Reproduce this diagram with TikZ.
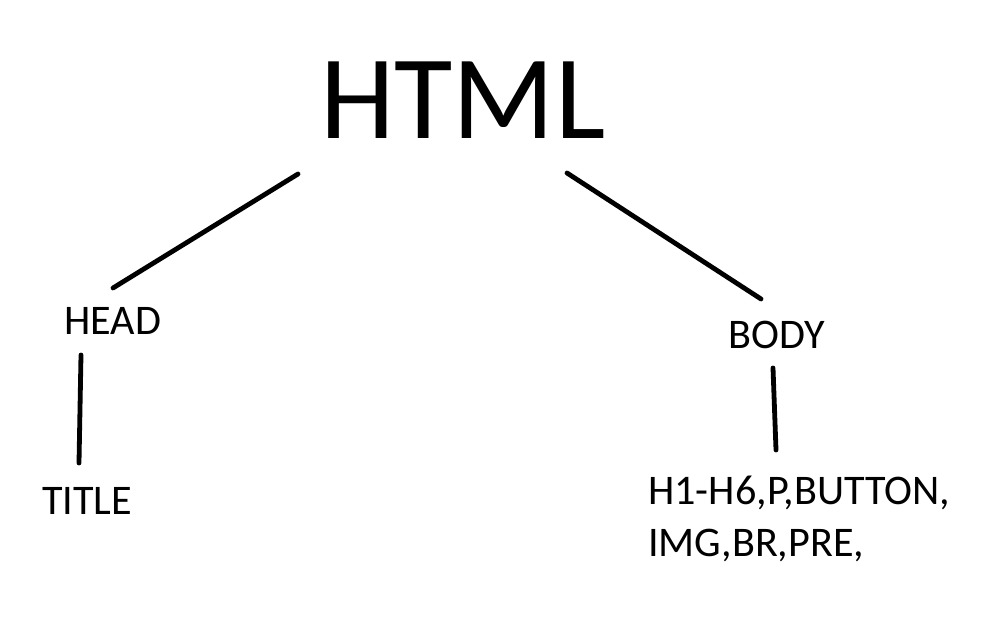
\documentclass[tikz,border=0pt]{standalone}
\usepackage{fontspec}
\setmainfont{Carlito}
\usetikzlibrary{positioning}
\tikzset{
  tag/.style={
    inner sep = 0pt,
    anchor = base west,
    font = \fontsize{30}{37}\selectfont
  },
  root/.style={
    inner sep = 0pt,
    anchor = base west,
    font = \fontsize{85}{90}\selectfont
  },
  edge/.style={
    line cap=round,
    line width=1.2mm,
  },
}
\begin{document}
\begin{tikzpicture}
 \useasboundingbox (0,0) rectangle (24.775,15.45);
 \node[root] (html) at (8.0,11.975) {HTML};
 \node[tag] (head) at (1.6,7.075) {HEAD};
 \node[tag] (body) at (18.2,6.725) {BODY};
 \node[tag] (title) at (1.05,2.575) {TITLE};
 \node[tag, anchor=north west, align=left] (tags) at (16.2,3.55) {H1-H6,P,BUTTON,\\IMG,BR,PRE,};
 % line ends
 \coordinate (html-l) at (7.45,11.1);
 \coordinate (head-t) at (2.825,8.25);
 \coordinate (html-r) at (14.175,11.125);
 \coordinate (body-t) at (19.025,7.975);
 \coordinate (head-b) at (2.025,6.575);
 \coordinate (title-t) at (1.975,3.875);
 \coordinate (body-b) at (19.325,6.25);
 \coordinate (tags-t) at (19.4,4.2);
 \foreach \a/\b in {html-l/head-t,html-r/body-t,head-b/title-t,body-b/tags-t}{
   \draw[edge] (\a) -- (\b);}
\end{tikzpicture}
\end{document}
